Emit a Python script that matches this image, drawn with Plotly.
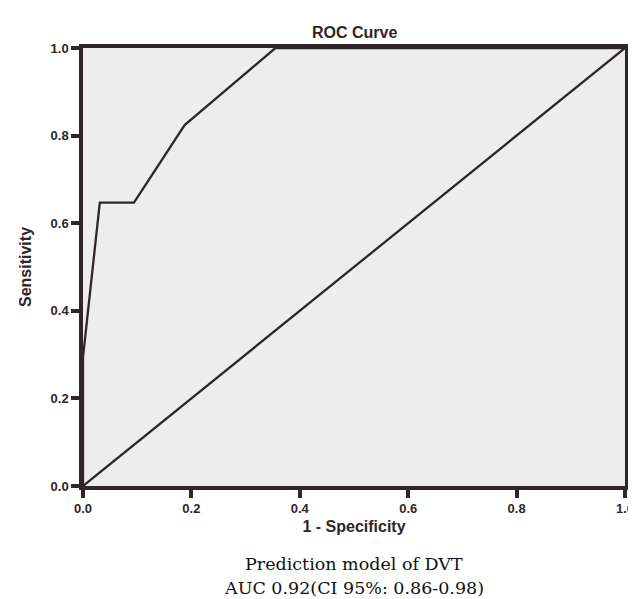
import plotly.graph_objects as go

# ROC curve data (1 - specificity, sensitivity)
fpr = [0.0, 0.0, 0.031, 0.094, 0.1875, 0.355, 1.0]
tpr = [0.0, 0.294, 0.647, 0.647, 0.824, 1.0, 1.0]
ref_x = [0.0, 1.0]
ref_y = [0.0, 1.0]
tick_vals = [0.0, 0.2, 0.4, 0.6, 0.8, 1.0]
tick_text = ["0.0", "0.2", "0.4", "0.6", "0.8", "1.0"]

title = "ROC Curve"
x_title = "1 - Specificity"
y_title = "Sensitivity"
caption = ["Prediction model of DVT", "AUC 0.92(CI 95%: 0.86-0.98)"]

INK = "#2e2627"
SANS = "Liberation Sans, Arial"

W, H = 636, 599
L, R, T, B = 75, 10, 40, 121
ph = H - T - B

fig = go.Figure()
fig.add_trace(go.Scatter(x=ref_x, y=ref_y, mode="lines",
                         line=dict(color=INK, width=2.3), hoverinfo="skip"))
fig.add_trace(go.Scatter(x=fpr, y=tpr, mode="lines",
                         line=dict(color=INK, width=2.3), hoverinfo="skip"))

axis_common = dict(
    range=[0, 1], tickvals=tick_vals, ticktext=tick_text,
    showgrid=False, zeroline=False, showline=True, linecolor=INK, linewidth=3.5,
    mirror=True, ticks="outside", ticklen=8, tickwidth=3.5, tickcolor=INK,
    tickfont=dict(family=SANS, size=13, color=INK, weight="bold"),
)

fig.update_layout(
    width=W, height=H,
    margin=dict(l=L, r=R, t=T, b=B, pad=0),
    paper_bgcolor="white", plot_bgcolor="#ededed",
    showlegend=False,
    xaxis=dict(**axis_common,
               title=dict(text="<b>" + x_title + "</b>", standoff=6,
                          font=dict(family=SANS, size=16, color=INK))),
    yaxis=dict(**axis_common,
               title=dict(text="<b>" + y_title + "</b>", standoff=16,
                          font=dict(family=SANS, size=16, color=INK))),
)

fig.add_annotation(text="<b>" + title + "</b>", xref="paper", yref="paper",
                   x=0.5, y=1 + (T - 24) / ph, yanchor="middle", showarrow=False,
                   font=dict(family=SANS, size=16, color=INK))

cap_y = [556, 580]
for txt, py in zip(caption, cap_y):
    fig.add_annotation(text=txt, xref="paper", yref="paper",
                       x=0.5, y=(H - B - py) / ph, yanchor="middle", showarrow=False,
                       font=dict(family="DejaVu Serif", size=17.5, color="#111111"))

fig.write_html("out.html")
